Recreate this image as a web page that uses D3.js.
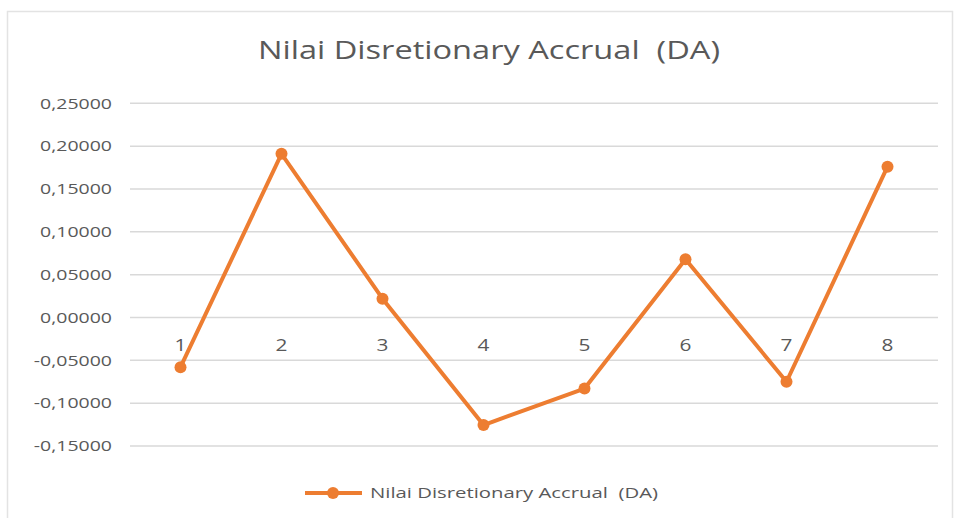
<!DOCTYPE html>
<html>
<head>
<meta charset="utf-8">
<script src="https://d3js.org/d3.v7.min.js"></script>
<style>
  body { margin: 0; background: #fff; }
  text { font-family: "Open Sans", sans-serif; fill: #595959; white-space: pre; }
</style>
</head>
<body>
<script>
// data
var categories = ["1", "2", "3", "4", "5", "6", "7", "8"];
var daValues = [-0.058, 0.191, 0.022, -0.1255, -0.083, 0.068, -0.075, 0.176];
var yTicks = [-0.15, -0.10, -0.05, 0, 0.05, 0.10, 0.15, 0.20, 0.25];
var seriesName = "Nilai Disretionary Accrual  (DA)";

var width = 955, height = 518;
var lineColor = "#ED7D31";
var gridColor = "#d9d9d9";
var stretchX = 1.3; // source picture is stretched sideways

var svg = d3.select("body").append("svg")
    .attr("width", width)
    .attr("height", height);

// chart frame
svg.append("rect")
    .attr("x", 7.5).attr("y", 11.5)
    .attr("width", 945).attr("height", 520)
    .attr("fill", "#fff")
    .attr("stroke", "#e3e3e3")
    .attr("stroke-width", 1.5);

var x = d3.scaleBand().domain(categories).range([130, 938]);
var y = d3.scaleLinear().domain([-0.15, 0.25]).range([446, 103.3]);

function stretch(sel) {
    sel.each(function () {
        var len = this.getComputedTextLength();
        d3.select(this).attr("textLength", len * stretchX).attr("lengthAdjust", "spacingAndGlyphs");
    });
}

// gridlines
svg.append("g")
    .selectAll("line")
    .data(yTicks)
    .enter()
    .append("line")
    .attr("x1", x.range()[0])
    .attr("x2", x.range()[1])
    .attr("y1", function (d) { return y(d); })
    .attr("y2", function (d) { return y(d); })
    .attr("stroke", gridColor)
    .attr("stroke-width", 1.5);

// y axis labels
var fmt = function (d) { return d3.format(".5f")(d).replace(".", ",").replace("−", "-"); };
var yAxis = svg.append("g")
    .attr("transform", "translate(112,0)")
    .call(d3.axisLeft(y).tickValues(yTicks).tickFormat(fmt).tickSize(0).tickPadding(0));
yAxis.select(".domain").remove();
yAxis.selectAll("text")
    .style("font-size", "15px")
    .attr("fill", "#595959")
    .attr("font-family", "Open Sans")
    .call(stretch);

// category labels sit just under the zero line
svg.append("g")
    .selectAll("text")
    .data(categories)
    .enter()
    .append("text")
    .attr("x", function (d) { return x(d) + x.bandwidth() / 2; })
    .attr("y", y(0) + 34)
    .attr("text-anchor", "middle")
    .style("font-size", "16px")
    .text(function (d) { return d; })
    .call(stretch);

// the series
var line = d3.line()
    .x(function (d, i) { return x(categories[i]) + x.bandwidth() / 2; })
    .y(function (d) { return y(d); });

svg.append("path")
    .datum(daValues)
    .attr("d", line)
    .attr("fill", "none")
    .attr("stroke", lineColor)
    .attr("stroke-width", 4)
    .attr("stroke-linejoin", "round");

svg.append("g")
    .selectAll("circle")
    .data(daValues)
    .enter()
    .append("circle")
    .attr("cx", function (d, i) { return x(categories[i]) + x.bandwidth() / 2; })
    .attr("cy", function (d) { return y(d); })
    .attr("r", 6)
    .attr("fill", lineColor);

// title
svg.append("text")
    .attr("x", 489)
    .attr("y", 59)
    .attr("text-anchor", "middle")
    .style("font-size", "26px")
    .attr("textLength", 462)
    .attr("lengthAdjust", "spacingAndGlyphs")
    .text(seriesName);

// legend
var legend = svg.append("g");
legend.append("line")
    .attr("x1", 305).attr("x2", 362)
    .attr("y1", 493).attr("y2", 493)
    .attr("stroke", lineColor)
    .attr("stroke-width", 4);
legend.append("circle")
    .attr("cx", 333).attr("cy", 493)
    .attr("r", 6)
    .attr("fill", lineColor);
legend.append("text")
    .attr("x", 370)
    .attr("y", 498)
    .style("font-size", "14px")
    .attr("textLength", 288)
    .attr("lengthAdjust", "spacingAndGlyphs")
    .text(seriesName);
</script>
</body>
</html>
